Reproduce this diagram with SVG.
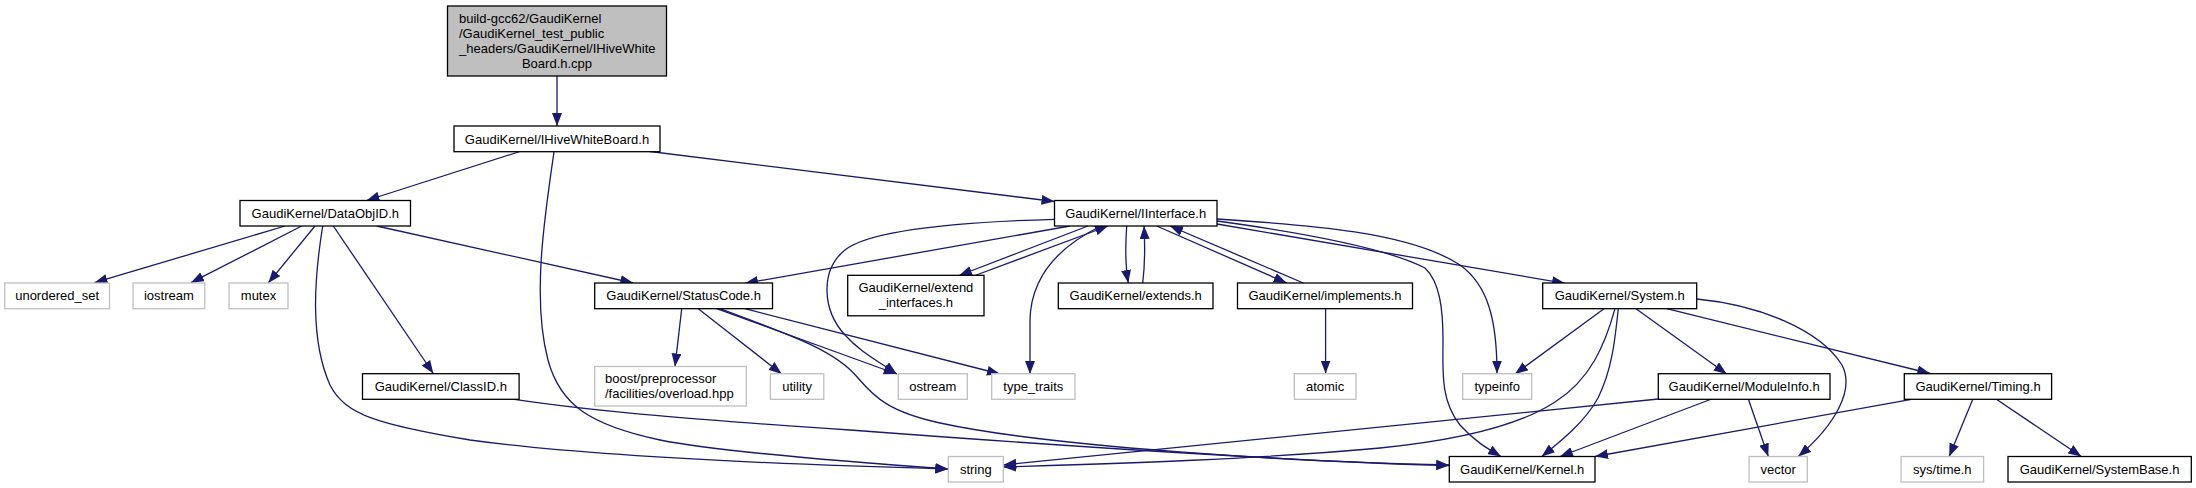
<svg xmlns="http://www.w3.org/2000/svg" width="2196" height="488" viewBox="0 0 2196 488">
<style>
text{font-family:"Liberation Sans",Arial,Helvetica,sans-serif;font-size:13px;fill:#000}
.c{text-anchor:middle}
.n rect{fill:#fff;stroke:#000;stroke-width:1.3}
.x rect{fill:#fff;stroke:#bfbfbf;stroke-width:1.3}
.r rect{fill:#bfbfbf;stroke:#000;stroke-width:1.3}
#edges path{fill:none;stroke:#191970;stroke-width:1.3;marker-end:url(#ah)}
</style>
<defs>
<marker id="ah" viewBox="0 0 13 10" refX="13" refY="5" markerWidth="13" markerHeight="10" markerUnits="userSpaceOnUse" orient="auto">
<path d="M0,0 L13,5 L0,10 z" fill="#191970"/>
</marker>
</defs>
<rect width="2196" height="488" fill="#fff"/>
<g id="edges">
<path d="M557,76 L557,126"/>
<path d="M520,151.5 L366.5,200.5"/>
<path d="M554,152 C544,220 532,300 548,360 C560,405 590,425 660,440 C720,452 850,462 948.3,469"/>
<path d="M650,151.5 L1054.5,201.5"/>
<path d="M285,226 L94.4,282.7"/>
<path d="M301.7,226 L191,282.7"/>
<path d="M315,226 L268.3,283"/>
<path d="M322.7,226 C314,280 310,340 330,385 C345,415 380,425 470,440 C600,458 800,465 948.3,469"/>
<path d="M333.3,226 L433.3,373.5"/>
<path d="M376.7,226 L633.3,283"/>
<path d="M514.4,399.3 C600,412 700,420 850,430 C1050,445 1300,462 1449.3,465.5"/>
<path d="M681.7,308.7 L675,366.5"/>
<path d="M698.3,308.7 L781.7,374"/>
<path d="M716.7,308.7 L896.7,374"/>
<path d="M745,308.7 L1000,374"/>
<path d="M720,308.7 C790,335 835,350 858,378 C875,398 890,412 940,423 C1050,447 1300,462 1449.3,465"/>
<path d="M1070,226 L745,283.3"/>
<path d="M1054.5,219.3 C960,222 870,230 845,250 C820,270 822,310 845,335 C860,352 880,362 896.7,374"/>
<path d="M1088,226 L959,275.5"/>
<path d="M975,275.5 L1108,226"/>
<path d="M1101,226 C1060,246 1031,275 1030,320 L1030,374"/>
<path d="M1126.7,226 C1125,250 1126,270 1128.3,283"/>
<path d="M1142.7,283 C1145,265 1145,245 1144,226"/>
<path d="M1156.7,226 L1286.7,283"/>
<path d="M1303.3,283 L1170,226"/>
<path d="M1325.6,308.7 L1325.6,373.5"/>
<path d="M1217,221 C1320,235 1390,250 1425,268 C1440,282 1443,310 1443,340 C1443,370 1440,400 1460,425 C1475,442 1490,450 1501,456.5"/>
<path d="M1217,219 C1310,225 1410,232 1460,265 C1488,285 1497,320 1497,373.5"/>
<path d="M1217,224 L1565,283.3"/>
<path d="M1604,308.7 L1515,374"/>
<path d="M1615,308.7 C1605,345 1590,380 1555,402 C1520,425 1460,440 1380,448 C1250,460 1100,464 1003.3,467"/>
<path d="M1618.3,308.7 C1615,340 1612,370 1598,398 C1585,422 1560,442 1541.7,456.5"/>
<path d="M1636,308.7 L1726.7,374"/>
<path d="M1696.7,299 C1760,305 1820,330 1842,365 C1855,390 1835,425 1798.3,456.5"/>
<path d="M1666.7,308.7 L1930.3,373.5"/>
<path d="M1658.3,399 L1003.3,465"/>
<path d="M1711.7,399 L1560,456.5"/>
<path d="M1748.3,399 L1768.3,456.5"/>
<path d="M1911.4,399.3 L1595,456.5"/>
<path d="M1972.8,399.3 L1949.2,456.5"/>
<path d="M1996.4,399.3 L2081.3,456.5"/>
</g>
<g id="node-root" class="r"><rect x="447.5" y="6" width="219" height="70"/>
<text x="459" y="22.8">build-gcc62/GaudiKernel</text>
<text x="459" y="37.8">/GaudiKernel_test_public</text>
<text x="459" y="52.8">_headers/GaudiKernel/IHiveWhite</text>
<text class="c" x="557" y="67.8">Board.h.cpp</text></g>
<g id="node-IHiveWhiteBoard" class="n"><rect x="454" y="126" width="206" height="25.7"/><text class="c" x="557" y="143.5">GaudiKernel/IHiveWhiteBoard.h</text></g>
<g id="node-DataObjID" class="n"><rect x="240" y="200.5" width="170.5" height="25.5"/><text class="c" x="325.3" y="217.8">GaudiKernel/DataObjID.h</text></g>
<g id="node-IInterface" class="n"><rect x="1054.5" y="200.5" width="162.5" height="25.5"/><text class="c" x="1135.7" y="217.8">GaudiKernel/IInterface.h</text></g>
<g id="node-unordered_set" class="x"><rect x="4.7" y="283" width="104.8" height="25.7"/><text class="c" x="57.1" y="300.3">unordered_set</text></g>
<g id="node-iostream" class="x"><rect x="133" y="283" width="71.8" height="25.7"/><text class="c" x="168.9" y="300.3">iostream</text></g>
<g id="node-mutex" class="x"><rect x="229" y="283" width="59" height="25.7"/><text class="c" x="258.5" y="300.3">mutex</text></g>
<g id="node-StatusCode" class="n"><rect x="594.7" y="283" width="177.8" height="25.7"/><text class="c" x="683.6" y="300.3">GaudiKernel/StatusCode.h</text></g>
<g id="node-extend_interfaces" class="n"><rect x="847.7" y="275.3" width="136.3" height="40.5"/><text class="c" x="915.9" y="292.2">GaudiKernel/extend</text><text class="c" x="915.9" y="307.2">_interfaces.h</text></g>
<g id="node-extends" class="n"><rect x="1058.3" y="283" width="154.7" height="25.7"/><text class="c" x="1135.7" y="300.3">GaudiKernel/extends.h</text></g>
<g id="node-implements" class="n"><rect x="1237.5" y="283" width="175" height="25.7"/><text class="c" x="1325" y="300.3">GaudiKernel/implements.h</text></g>
<g id="node-System" class="n"><rect x="1542.7" y="283" width="154" height="25.7"/><text class="c" x="1619.7" y="300.3">GaudiKernel/System.h</text></g>
<g id="node-boost" class="x"><rect x="594.7" y="366.5" width="151.6" height="39.5"/><text x="605" y="382.8">boost/preprocessor</text><text x="605" y="397.8">/facilities/overload.hpp</text></g>
<g id="node-ClassID" class="n"><rect x="362.5" y="373.7" width="156.6" height="25.6"/><text class="c" x="440.8" y="391">GaudiKernel/ClassID.h</text></g>
<g id="node-utility" class="x"><rect x="770.4" y="373.7" width="53.4" height="25.6"/><text class="c" x="797.1" y="391">utility</text></g>
<g id="node-ostream" class="x"><rect x="898.3" y="373.7" width="69" height="25.6"/><text class="c" x="932.8" y="391">ostream</text></g>
<g id="node-type_traits" class="x"><rect x="991.7" y="373.7" width="83.3" height="25.6"/><text class="c" x="1033.3" y="391">type_traits</text></g>
<g id="node-atomic" class="x"><rect x="1294.3" y="373.7" width="61.7" height="25.6"/><text class="c" x="1325.1" y="391">atomic</text></g>
<g id="node-typeinfo" class="x"><rect x="1462.7" y="373.7" width="69" height="25.6"/><text class="c" x="1497.2" y="391">typeinfo</text></g>
<g id="node-ModuleInfo" class="n"><rect x="1658.3" y="373.7" width="171.7" height="25.6"/><text class="c" x="1744.1" y="391">GaudiKernel/ModuleInfo.h</text></g>
<g id="node-Timing" class="n"><rect x="1904.3" y="373.7" width="147.3" height="25.6"/><text class="c" x="1978" y="391">GaudiKernel/Timing.h</text></g>
<g id="node-string" class="x"><rect x="948.3" y="456.5" width="55" height="25.5"/><text class="c" x="975.8" y="473.8">string</text></g>
<g id="node-Kernel" class="n"><rect x="1449.3" y="456.5" width="145.7" height="25.5"/><text class="c" x="1522.2" y="473.8">GaudiKernel/Kernel.h</text></g>
<g id="node-vector" class="x"><rect x="1749" y="456.5" width="58.3" height="25.5"/><text class="c" x="1778.2" y="473.8">vector</text></g>
<g id="node-systime" class="x"><rect x="1901" y="456.5" width="82.6" height="25.5"/><text class="c" x="1942.3" y="473.8">sys/time.h</text></g>
<g id="node-SystemBase" class="n"><rect x="2008" y="456.5" width="183.3" height="25.5"/><text class="c" x="2099.6" y="473.8">GaudiKernel/SystemBase.h</text></g>
</svg>
